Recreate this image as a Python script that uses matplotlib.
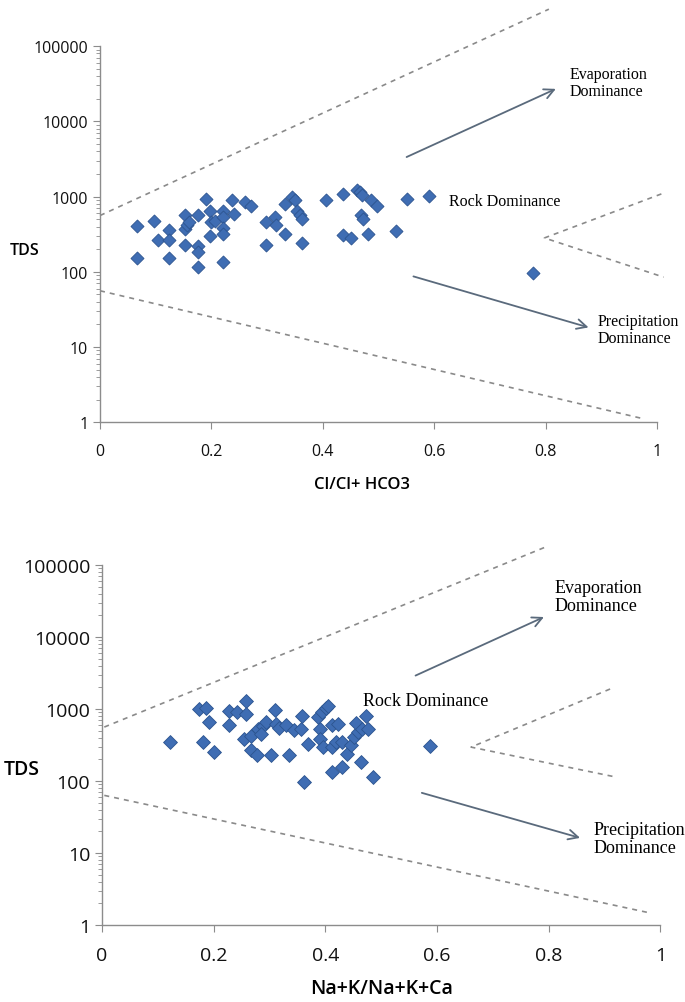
import matplotlib
matplotlib.use("Agg")
import matplotlib.pyplot as plt
from matplotlib.ticker import FixedLocator, FuncFormatter, LogLocator, NullFormatter

# ---------------- data: top chart (Cl / (Cl + HCO3)) ----------------
cl_ratio = [0.067, 0.067, 0.097, 0.105, 0.124, 0.124, 0.124, 0.152, 0.152, 0.156,
            0.160, 0.152, 0.176, 0.176, 0.176, 0.176, 0.191, 0.197, 0.199, 0.198,
            0.207, 0.221, 0.221, 0.221, 0.221, 0.221, 0.237, 0.240, 0.261, 0.272,
            0.298, 0.298, 0.314, 0.316, 0.332, 0.332, 0.345, 0.351, 0.353, 0.359,
            0.362, 0.362, 0.405, 0.437, 0.437, 0.450, 0.461, 0.466, 0.471, 0.469,
            0.473, 0.481, 0.486, 0.498, 0.531, 0.552, 0.591, 0.778]
cl_tds = [412, 151, 480, 268, 364, 268, 151, 570, 371, 420,
          464, 230, 570, 223, 186, 115, 930, 638, 464, 302,
          480, 638, 530, 388, 323, 137, 894, 588, 840, 760,
          464, 230, 530, 424, 790, 316, 990, 894, 650, 570,
          505, 242, 903, 1074, 306, 282, 1214, 1142, 1052, 570,
          505, 316, 912, 760, 346, 930, 1010, 97]

# ---------------- data: bottom chart (Na+K / (Na+K+Ca)) ----------------
na_ratio = [0.122, 0.174, 0.186, 0.181, 0.192, 0.200, 0.227, 0.227, 0.242, 0.258,
            0.258, 0.254, 0.266, 0.267, 0.277, 0.279, 0.289, 0.293, 0.285, 0.302,
            0.310, 0.312, 0.317, 0.329, 0.334, 0.344, 0.356, 0.359, 0.362, 0.368,
            0.387, 0.394, 0.401, 0.405, 0.391, 0.391, 0.395, 0.411, 0.411, 0.423,
            0.419, 0.430, 0.412, 0.430, 0.438, 0.446, 0.452, 0.458, 0.454, 0.466,
            0.472, 0.476, 0.463, 0.486, 0.588]
na_tds = [345, 1000, 1020, 345, 668, 250, 940, 607, 918, 1290,
          853, 384, 427, 273, 230, 528, 588, 668, 450, 226,
          980, 626, 540, 600, 228, 506, 528, 809, 98, 327,
          766, 900, 1020, 1110, 528, 384, 294, 294, 607, 618,
          345, 345, 133, 155, 238, 311, 405, 475, 640, 528,
          809, 528, 182, 112, 304]

# ---------------- boundary lines / arrows (data units) ----------------
top_upper_x, top_upper_y = [0.0, 0.806], [560, 310000]
top_lower_x, top_lower_y = [0.0, 0.972], [56, 1.13]
top_chev_x, top_chev_y = [1.008, 0.798, 1.012], [1085, 282, 85]
top_evap_arrow = [(0.546, 3240), (0.823, 28000)]
top_prec_arrow = [(0.558, 89), (0.882, 17.8)]

bot_upper_x, bot_upper_y = [0.004, 0.792], [560, 174000]
bot_lower_x, bot_lower_y = [0.004, 0.976], [63, 1.5]
bot_chev_x, bot_chev_y = [0.910, 0.661, 0.921], [1890, 295, 113]
bot_evap_arrow = [(0.557, 2800), (0.796, 19600)]
bot_prec_arrow = [(0.568, 70), (0.861, 15.8)]

y_ticks = [1, 10, 100, 1000, 10000, 100000]
x_ticks = [0, 0.2, 0.4, 0.6, 0.8, 1]

MARKER_COLOR = "#3f6db3"
EDGE_COLOR = "#2c548f"
DASH_COLOR = "#8a8a8a"
ARROW_COLOR = "#5a6a7c"
SPINE_COLOR = "#8c8c8c"
SANS = ["Open Sans", "DejaVu Sans"]
SERIF = ["Liberation Serif", "DejaVu Serif"]

fig = plt.figure(figsize=(6.85, 10.03), dpi=100)


def style_axes(ax, tick_fs):
    ax.set_yscale("log")
    ax.set_xlim(0, 1)
    ax.set_ylim(1, 100000)
    for s in ("top", "right"):
        ax.spines[s].set_visible(False)
    for s in ("left", "bottom"):
        ax.spines[s].set_color(SPINE_COLOR)
        ax.spines[s].set_linewidth(1.0)
    ax.yaxis.set_major_locator(FixedLocator(y_ticks))
    ax.yaxis.set_major_formatter(FuncFormatter(lambda v, p: f"{int(round(v))}"))
    ax.yaxis.set_minor_locator(LogLocator(base=10, subs=range(2, 10)))
    ax.yaxis.set_minor_formatter(NullFormatter())
    ax.xaxis.set_major_locator(FixedLocator(x_ticks))
    ax.xaxis.set_major_formatter(FuncFormatter(lambda v, p: f"{v:g}"))
    ax.tick_params(axis="both", which="major", direction="out", length=5,
                   color=SPINE_COLOR, labelsize=tick_fs, labelcolor="#111111")
    ax.tick_params(axis="y", which="minor", direction="out", length=3,
                   color=SPINE_COLOR)
    ax.tick_params(axis="x", pad=10)
    for lab in ax.get_xticklabels() + ax.get_yticklabels():
        lab.set_family(SANS)


def draw_panel(ax, xs, ys, upper, lower, chev, evap, prec,
               evap_txt_pos, prec_txt_pos, rock_pos, ann_fs, ms):
    ax.plot(upper[0], upper[1], ls=(0, (3, 3)), color=DASH_COLOR, lw=1.2, clip_on=False)
    ax.plot(lower[0], lower[1], ls=(0, (3, 3)), color=DASH_COLOR, lw=1.2, clip_on=False)
    ax.plot(chev[0], chev[1], ls=(0, (3, 3)), color=DASH_COLOR, lw=1.2, clip_on=False)
    ax.scatter(xs, ys, marker="D", s=ms, color=MARKER_COLOR, edgecolors=EDGE_COLOR,
               linewidths=0.6, zorder=3, clip_on=False)
    for (p0, p1) in (evap, prec):
        ax.annotate("", xy=p1, xytext=p0,
                    arrowprops=dict(arrowstyle="->,head_length=0.7,head_width=0.35",
                                    color=ARROW_COLOR, lw=1.3),
                    annotation_clip=False)
    ax.text(evap_txt_pos[0], evap_txt_pos[1], "Evaporation\nDominance",
            family=SERIF, fontsize=ann_fs, ha="left", va="center",
            linespacing=1.1, clip_on=False)
    ax.text(prec_txt_pos[0], prec_txt_pos[1], "Precipitation\nDominance",
            family=SERIF, fontsize=ann_fs, ha="left", va="center",
            linespacing=1.1, clip_on=False)
    ax.text(rock_pos[0], rock_pos[1], "Rock Dominance",
            family=SERIF, fontsize=ann_fs, ha="left", va="center", clip_on=False)


# ---------------- top panel ----------------
ax1 = fig.add_axes([0.146, 0.578, 0.813, 0.375])
style_axes(ax1, 11.5)
draw_panel(ax1, cl_ratio, cl_tds,
           (top_upper_x, top_upper_y), (top_lower_x, top_lower_y),
           (top_chev_x, top_chev_y), top_evap_arrow, top_prec_arrow,
           (0.843, 33000), (0.894, 17), (0.627, 870), 11.5, 44)
ax1.set_xlabel("Cl/Cl+ HCO3", family=SANS, fontsize=12, fontweight="semibold",
               va="center", ha="center")
ax1.xaxis.set_label_coords(0.47, -0.165)
ax1.set_ylabel("TDS", family=SANS, fontsize=11.5, fontweight="semibold",
               rotation=0, va="center", ha="center")
ax1.yaxis.set_label_coords(-0.136, 0.457)

# ---------------- bottom panel ----------------
ax2 = fig.add_axes([0.149, 0.0768, 0.815, 0.359])
style_axes(ax2, 14)
draw_panel(ax2, na_ratio, na_tds,
           (bot_upper_x, bot_upper_y), (bot_lower_x, bot_lower_y),
           (bot_chev_x, bot_chev_y), bot_evap_arrow, bot_prec_arrow,
           (0.811, 36000), (0.880, 16), (0.468, 1300), 13, 50)
ax2.set_xlabel("Na+K/Na+K+Ca", family=SANS, fontsize=14, fontweight="semibold",
               va="center", ha="center")
ax2.xaxis.set_label_coords(0.5, -0.175)
ax2.set_ylabel("TDS", family=SANS, fontsize=14, fontweight="semibold",
               rotation=0, va="center", ha="center")
ax2.yaxis.set_label_coords(-0.143, 0.433)

fig.savefig("out.png", dpi=100)
